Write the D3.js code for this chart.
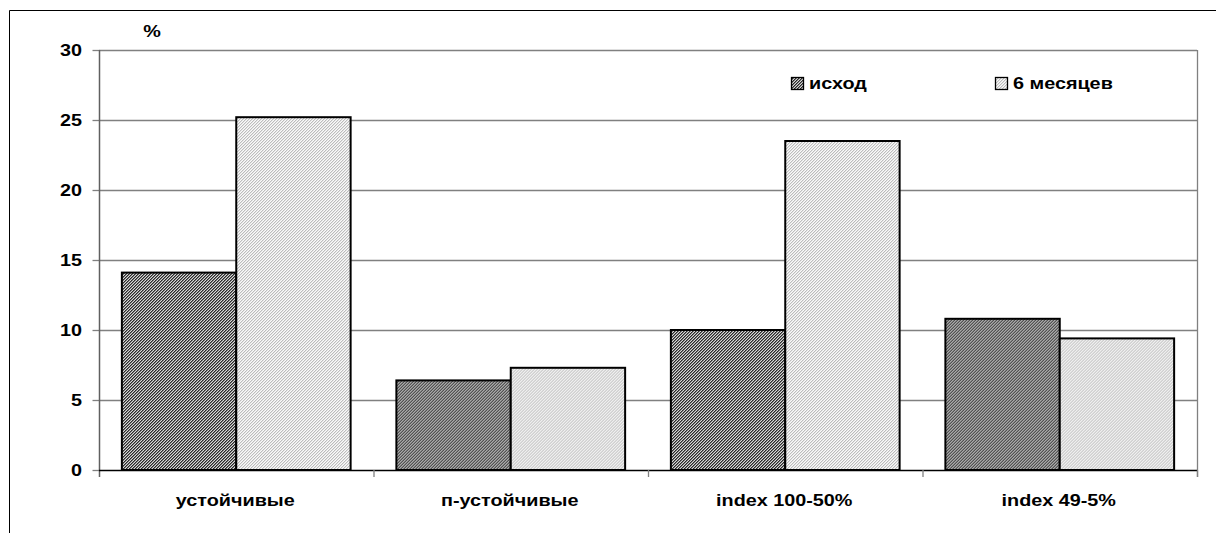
<!DOCTYPE html>
<html><head><meta charset="utf-8">
<script src="https://cdn.jsdelivr.net/npm/d3@7"></script>
<style>
html,body{margin:0;padding:0;background:#fff;}
text{font-family:"Liberation Sans",Arial,sans-serif;font-weight:bold;fill:#000;}
</style></head>
<body>
<svg id="chart" width="1216" height="533"></svg>
<script>
const categories = ["устойчивые", "п-устойчивые", "index 100-50%", "index 49-5%"];
const seriesNames = ["исход", "6 месяцев"];
const baseline = [14.1, 6.4, 10.0, 10.8];
const sixMonths = [25.2, 7.3, 23.5, 9.4];
const yTicks = [0, 5, 10, 15, 20, 25, 30];
const yUnit = "%";

(function () {
const svg = d3.select("#chart");
const W = 1216, H = 533;
const pLeft = 99, pRight = 1197, pTop = 50, pBottom = 470;
const SX = 1.2, FS = 16.5;

// patterns
const defs = svg.append("defs");
function pixPattern(id, cols) {
  const n = cols.length;
  const p = defs.append("pattern").attr("id", id).attr("patternUnits", "userSpaceOnUse")
    .attr("width", n).attr("height", n);
  for (let i = 0; i < n; i++) for (let j = 0; j < n; j++) {
    p.append("rect").attr("x", i).attr("y", j).attr("width", 1).attr("height", 1)
      .attr("fill", cols[(i + j) % n]);
  }
}
pixPattern("pDark", ["#2a2a2a", "#7a7a7a", "#d8d8d8"]);
pixPattern("pLight", ["#fafafa", "#bcbcbc", "#e4e4e4"]);
const fills = ["url(#pDark)", "url(#pLight)"];

// outer border
svg.append("line").attr("x1", 9.5).attr("x2", W).attr("y1", 10.5).attr("y2", 10.5).attr("stroke", "#000");
svg.append("line").attr("x1", 9.5).attr("x2", 9.5).attr("y1", 10.5).attr("y2", H).attr("stroke", "#000");

const y = d3.scaleLinear().domain([0, 30]).range([pBottom, pTop]);
const x0 = d3.scaleBand().domain(categories).range([pLeft, pRight]).paddingInner(0).paddingOuter(0);
const x1 = d3.scaleBand().domain(seriesNames).range([0, x0.bandwidth()]).paddingInner(0).paddingOuter(0.2);

function stxt(sel, xx, yy) {
  return sel.attr("transform", `translate(${xx},${yy}) scale(${SX},1)`);
}

// gridlines
svg.append("g").selectAll("line").data(yTicks.filter(d => d > 0)).join("line")
  .attr("x1", pLeft).attr("x2", pRight)
  .attr("y1", d => Math.round(y(d)) + 0.5).attr("y2", d => Math.round(y(d)) + 0.5)
  .attr("stroke", "#808080").attr("stroke-width", 1.3);

// right edge line
svg.append("line").attr("x1", pRight + 0.5).attr("x2", pRight + 0.5).attr("y1", pTop).attr("y2", pBottom + 7)
  .attr("stroke", "#808080").attr("stroke-width", 1.3);

// bars
const data = categories.map((c, i) => ({ c, vals: [baseline[i], sixMonths[i]] }));
const groups = svg.append("g").selectAll("g").data(data).join("g")
  .attr("transform", d => `translate(${x0(d.c)},0)`);
groups.selectAll("rect").data(d => d.vals.map((v, k) => ({ v, k }))).join("rect")
  .attr("x", d => x1(seriesNames[d.k]))
  .attr("width", x1.bandwidth())
  .attr("y", d => y(d.v))
  .attr("height", d => y(0) - y(d.v))
  .attr("fill", d => fills[d.k])
  .attr("stroke", "#000").attr("stroke-width", 2);

// y axis
const yAxis = svg.append("g").attr("transform", `translate(${pLeft + 0.5},0)`)
  .call(d3.axisLeft(y).tickValues(yTicks).tickSize(7).tickFormat(d3.format("d")));
yAxis.select(".domain").remove();
yAxis.selectAll(".tick line").attr("stroke", "#808080").attr("stroke-width", 1.3);
yAxis.selectAll(".tick text").remove();
svg.append("line").attr("x1", pLeft + 0.5).attr("x2", pLeft + 0.5).attr("y1", pTop).attr("y2", pBottom + 7)
  .attr("stroke", "#606060").attr("stroke-width", 1.5);
svg.append("g").selectAll("text").data(yTicks).join("text")
  .attr("text-anchor", "end").attr("font-size", FS).attr("dy", "0.35em")
  .each(function (d) { stxt(d3.select(this), 82, y(d)); })
  .text(d => d);

// x axis
svg.append("line").attr("x1", pLeft).attr("x2", pRight).attr("y1", pBottom + 0.5).attr("y2", pBottom + 0.5)
  .attr("stroke", "#000").attr("stroke-width", 1.5);
const bounds = categories.map(c => x0(c)).concat([pRight]).slice(1);
svg.append("g").selectAll("line").data(bounds).join("line")
  .attr("x1", d => d + 0.5).attr("x2", d => d + 0.5).attr("y1", pBottom).attr("y2", pBottom + 7)
  .attr("stroke", "#808080").attr("stroke-width", 1.3);
svg.append("g").selectAll("text").data(categories).join("text")
  .attr("text-anchor", "middle").attr("font-size", FS)
  .each(function (d) { stxt(d3.select(this), x0(d) + x0.bandwidth() / 2 - 1, 506); })
  .text(d => d);

// unit
stxt(svg.append("text").attr("text-anchor", "middle").attr("font-size", FS), 152, 37).text(yUnit);

// legend
const legendX = [791, 995];
seriesNames.forEach((s, k) => {
  svg.append("rect").attr("x", legendX[k] + 0.5).attr("y", 77.5).attr("width", 12).attr("height", 12)
    .attr("fill", fills[k]).attr("stroke", "#000").attr("stroke-width", 1.3);
  stxt(svg.append("text").attr("font-size", FS), legendX[k] + 18, 89).text(s);
});
})();
</script>
</body></html>
